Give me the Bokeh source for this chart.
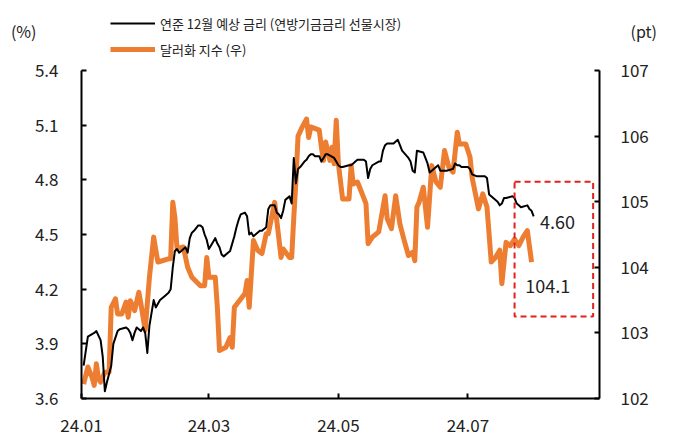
import pandas as pd
from bokeh.plotting import figure
from bokeh.models import (Range1d, LinearAxis, FixedTicker, DatetimeTickFormatter,
                          Legend, LegendItem)
from bokeh.embed import file_html
from bokeh.resources import INLINE
from bokeh.core.properties import value

# ---------------- data ----------------
series_names = ["연준 12월 예상 금리 (연방기금금리 선물시장)", "달러화 지수 (우)"]

rate_dates = [
    "2024-01-02", "2024-01-04", "2024-01-07", "2024-01-08", "2024-01-10", "2024-01-11",
    "2024-01-12", "2024-01-13", "2024-01-15", "2024-01-16", "2024-01-18", "2024-01-19",
    "2024-01-22", "2024-01-23", "2024-01-24", "2024-01-25", "2024-01-26", "2024-01-27",
    "2024-01-29", "2024-01-30", "2024-01-31", "2024-02-01", "2024-02-02", "2024-02-03",
    "2024-02-04", "2024-02-05", "2024-02-07", "2024-02-08", "2024-02-09", "2024-02-11",
    "2024-02-12", "2024-02-13", "2024-02-14", "2024-02-15", "2024-02-16", "2024-02-17",
    "2024-02-19", "2024-02-20", "2024-02-21", "2024-02-22", "2024-02-23", "2024-02-25",
    "2024-02-26", "2024-02-27", "2024-02-28", "2024-02-29", "2024-03-01", "2024-03-02",
    "2024-03-04", "2024-03-05", "2024-03-06", "2024-03-07", "2024-03-08", "2024-03-11",
    "2024-03-13", "2024-03-14", "2024-03-15", "2024-03-16", "2024-03-18", "2024-03-19",
    "2024-03-20", "2024-03-21", "2024-03-22", "2024-03-25", "2024-03-26", "2024-03-27",
    "2024-03-28", "2024-03-29", "2024-03-30", "2024-04-01", "2024-04-02", "2024-04-03",
    "2024-04-04", "2024-04-05", "2024-04-06", "2024-04-08", "2024-04-09", "2024-04-10",
    "2024-04-11", "2024-04-12", "2024-04-13", "2024-04-15", "2024-04-16", "2024-04-17",
    "2024-04-18", "2024-04-19", "2024-04-20", "2024-04-22", "2024-04-23", "2024-04-24",
    "2024-04-25", "2024-04-26", "2024-04-29", "2024-04-30", "2024-05-01", "2024-05-02",
    "2024-05-03", "2024-05-06", "2024-05-07", "2024-05-08", "2024-05-09", "2024-05-10",
    "2024-05-13", "2024-05-14", "2024-05-15", "2024-05-16", "2024-05-17", "2024-05-20",
    "2024-05-21", "2024-05-22", "2024-05-23", "2024-05-24", "2024-05-27", "2024-05-28",
    "2024-05-29", "2024-05-30", "2024-05-31", "2024-06-03", "2024-06-04", "2024-06-05",
    "2024-06-06", "2024-06-07", "2024-06-10", "2024-06-11", "2024-06-12", "2024-06-13",
    "2024-06-14", "2024-06-17", "2024-06-18", "2024-06-20", "2024-06-21", "2024-06-24",
    "2024-06-25", "2024-06-26", "2024-06-27", "2024-06-28", "2024-07-01", "2024-07-02",
    "2024-07-03", "2024-07-05", "2024-07-08", "2024-07-09", "2024-07-10", "2024-07-11",
    "2024-07-12", "2024-07-15", "2024-07-16", "2024-07-17", "2024-07-18", "2024-07-19",
    "2024-07-22", "2024-07-23", "2024-07-24", "2024-07-25", "2024-07-26", "2024-07-29",
    "2024-07-30", "2024-07-31", "2024-08-01",
]
rate_values = [
    3.78, 3.94, 3.96, 3.97, 3.92, 3.83,
    3.64, 3.69, 3.78, 3.90, 3.97, 3.98,
    3.99, 3.98, 3.96, 3.92, 3.96, 3.99,
    3.97, 3.99, 3.96, 3.85, 4.00, 4.07,
    4.14, 4.10, 4.14, 4.15, 4.16, 4.18,
    4.20, 4.32, 4.41, 4.42, 4.40, 4.41,
    4.43, 4.40, 4.48, 4.51, 4.52, 4.55,
    4.55, 4.54, 4.50, 4.47, 4.42, 4.44,
    4.48, 4.45, 4.43, 4.39, 4.38, 4.41,
    4.49, 4.54, 4.58, 4.61, 4.62, 4.60,
    4.50, 4.51, 4.49, 4.52, 4.52, 4.53,
    4.54, 4.64, 4.66, 4.66, 4.62, 4.61,
    4.59, 4.63, 4.69, 4.71, 4.67, 4.92,
    4.78, 4.86, 4.87, 4.90, 4.91, 4.93,
    4.94, 4.94, 4.93, 4.93, 4.90, 4.92,
    4.94, 4.94, 4.92, 4.90, 4.88, 4.87,
    4.87, 4.88, 4.88, 4.89, 4.90, 4.91,
    4.91, 4.90, 4.81, 4.86, 4.88, 4.90,
    4.90, 4.96, 4.99, 5.00, 5.00, 5.01,
    5.02, 4.99, 4.96, 4.92, 4.90, 4.85,
    4.84, 4.96, 4.95, 4.92, 4.89, 4.84,
    4.85, 4.88, 4.85, 4.85, 4.85, 4.86,
    4.89, 4.88, 4.88, 4.87, 4.87, 4.86,
    4.83, 4.82, 4.82, 4.82, 4.81, 4.72,
    4.71, 4.68, 4.66, 4.67, 4.70, 4.70,
    4.71, 4.70, 4.67, 4.66, 4.65, 4.66,
    4.64, 4.63, 4.60,
]

dxy_dates = [
    "2024-01-02", "2024-01-04", "2024-01-06", "2024-01-07", "2024-01-08", "2024-01-09",
    "2024-01-10", "2024-01-12", "2024-01-14", "2024-01-15", "2024-01-17", "2024-01-18",
    "2024-01-20", "2024-01-22", "2024-01-23", "2024-01-24", "2024-01-26", "2024-01-28",
    "2024-01-29", "2024-01-31", "2024-02-02", "2024-02-04", "2024-02-05", "2024-02-06",
    "2024-02-08", "2024-02-11", "2024-02-12", "2024-02-13", "2024-02-14", "2024-02-15",
    "2024-02-18", "2024-02-20", "2024-02-22", "2024-02-26", "2024-02-28", "2024-02-29",
    "2024-03-01", "2024-03-04", "2024-03-05", "2024-03-06", "2024-03-09", "2024-03-11",
    "2024-03-12", "2024-03-13", "2024-03-18", "2024-03-19", "2024-03-20", "2024-03-22",
    "2024-03-24", "2024-03-26", "2024-03-28", "2024-03-29", "2024-04-01", "2024-04-02",
    "2024-04-04", "2024-04-05", "2024-04-08", "2024-04-09", "2024-04-10", "2024-04-11",
    "2024-04-12", "2024-04-14", "2024-04-16", "2024-04-17", "2024-04-18", "2024-04-22",
    "2024-04-23", "2024-04-24", "2024-04-25", "2024-04-27", "2024-04-28", "2024-04-29",
    "2024-04-30", "2024-05-01", "2024-05-03", "2024-05-06", "2024-05-07", "2024-05-08",
    "2024-05-10", "2024-05-11", "2024-05-14", "2024-05-15", "2024-05-17", "2024-05-20",
    "2024-05-23", "2024-05-24", "2024-05-26", "2024-05-28", "2024-05-30", "2024-06-01",
    "2024-06-03", "2024-06-05", "2024-06-06", "2024-06-07", "2024-06-08", "2024-06-10",
    "2024-06-12", "2024-06-14", "2024-06-16", "2024-06-18", "2024-06-20", "2024-06-22",
    "2024-06-24", "2024-06-26", "2024-06-27", "2024-06-30", "2024-07-02", "2024-07-03",
    "2024-07-06", "2024-07-08", "2024-07-10", "2024-07-12", "2024-07-14", "2024-07-16",
    "2024-07-17", "2024-07-19", "2024-07-21", "2024-07-23", "2024-07-25", "2024-07-27",
    "2024-07-29", "2024-07-31",
]
dxy_values = [
    102.22, 102.48, 102.32, 102.20, 102.53, 102.30,
    102.25, 102.40, 102.40, 103.39, 103.52, 103.29,
    103.29, 103.47, 103.24, 103.49, 103.34, 103.62,
    103.44, 103.04, 103.85, 104.46, 104.26, 104.08,
    104.10, 104.13, 104.13, 104.99, 104.76, 104.28,
    104.31, 104.00, 103.85, 103.72, 103.72, 104.15,
    103.85, 103.85, 103.39, 102.73, 102.78, 102.93,
    102.78, 103.39, 103.60, 103.80, 103.39, 104.41,
    104.26, 104.21, 104.51, 104.51, 104.99, 104.71,
    104.15, 104.28, 104.15, 104.15, 104.76, 105.32,
    106.00, 106.14, 106.26, 105.98, 106.14, 106.09,
    105.83, 105.63, 105.91, 105.63, 105.83, 105.58,
    106.24, 105.58, 105.04, 105.04, 105.55, 105.27,
    105.30, 105.22, 104.97, 104.36, 104.46, 104.54,
    105.09, 104.74, 104.59, 105.09, 104.66, 104.41,
    104.18, 104.23, 104.10, 104.92, 104.99, 105.22,
    104.61, 105.55, 105.30, 105.22, 105.78, 105.53,
    105.45, 106.06, 105.88, 105.88, 105.68, 105.37,
    104.89, 105.12, 104.92, 104.08, 104.15, 104.26,
    103.75, 104.38, 104.33, 104.43, 104.33, 104.46,
    104.56, 104.08,
]

left_ticks = [3.6, 3.9, 4.2, 4.5, 4.8, 5.1, 5.4]
right_ticks = [102, 103, 104, 105, 106, 107]
x_tick_dates = ["2024-01-01", "2024-03-01", "2024-05-01", "2024-07-01"]
x_tick_labels = ["24.01", "24.03", "24.05", "24.07"]
x_start, x_end = "2024-01-01", "2024-09-01"

last_rate_label = "4.60"
last_dxy_label = "104.1"
left_unit = "(%)"
right_unit = "(pt)"

# ---------------- layout / styling ----------------
FONT = "Noto Sans CJK KR"
TXT = "#222222"
ORANGE = "#ED7D31"
RED = "#E3211C"
TICK_FS = "17px"

W, H = 694, 447
FRAME_L, FRAME_R, FRAME_B = 81, 599, 398      # frame edges (px); frame reaches the top
AXIS_TOP = 70                                   # where the value axes end (px)
frame_h = FRAME_B                               # frame spans 0..FRAME_B


def extend_top(lo, hi):
    # value at the top of the frame so that `hi` sits AXIS_TOP px below it
    per_px = (hi - lo) / (FRAME_B - AXIS_TOP)
    return hi + AXIS_TOP * per_px


def ms(d):
    return int(pd.Timestamp(d).value // 10**6)


p = figure(width=W, height=H, output_backend="svg", toolbar_location=None, title=None,
           x_axis_type="datetime",
           x_range=Range1d(pd.Timestamp(x_start), pd.Timestamp(x_end)),
           y_range=Range1d(left_ticks[0], extend_top(left_ticks[0], left_ticks[-1])),
           min_border_left=FRAME_L, min_border_right=W - FRAME_R,
           min_border_top=0, min_border_bottom=H - FRAME_B)
p.outline_line_color = None
p.grid.visible = False
p.background_fill_color = "white"
p.border_fill_color = "white"

p.extra_y_ranges = {
    "dxy": Range1d(right_ticks[0], extend_top(right_ticks[0], right_ticks[-1])),
    "px": Range1d(0, frame_h),   # pixel-like helper range for the unit captions
}

# lines
r_dxy = p.line(pd.to_datetime(dxy_dates), dxy_values, line_color=ORANGE, line_width=5,
               line_join="round", y_range_name="dxy")
r_rate = p.line(pd.to_datetime(rate_dates), rate_values, line_color="black", line_width=2,
                line_join="round")


def style_axis(ax):
    ax.axis_line_color = "black"
    ax.axis_line_width = 2
    ax.major_tick_line_color = "black"
    ax.major_tick_line_width = 2
    ax.major_tick_in = 5
    ax.major_tick_out = 0
    ax.minor_tick_line_color = None
    ax.major_label_text_font = FONT
    ax.major_label_text_font_size = TICK_FS
    ax.major_label_text_color = TXT


# x axis
xa = p.xaxis[0]
xa.ticker = FixedTicker(ticks=[ms(d) for d in x_tick_dates])
xa.formatter = DatetimeTickFormatter(days="%y.%m", months="%y.%m", years="%y.%m")
xa.major_label_overrides = {ms(d): lab for d, lab in zip(x_tick_dates, x_tick_labels)}
style_axis(xa)
xa.major_label_standoff = 20

# left axis
ya = p.yaxis[0]
ya.ticker = FixedTicker(ticks=left_ticks)
ya.bounds = (left_ticks[0], left_ticks[-1])
style_axis(ya)
ya.major_label_standoff = 23

# right axis
ra = LinearAxis(y_range_name="dxy", ticker=FixedTicker(ticks=right_ticks),
                bounds=(right_ticks[0], right_ticks[-1]))
style_axis(ra)
ra.major_label_standoff = 21
p.add_layout(ra, "right")

# unit captions as tick labels of bare helper axes
UNIT_Y = frame_h - 30   # 30 px below the top of the picture


def unit_axis(text, standoff):
    ax = LinearAxis(y_range_name="px", ticker=FixedTicker(ticks=[UNIT_Y]),
                    major_label_overrides={UNIT_Y: text})
    ax.axis_line_color = None
    ax.major_tick_line_color = None
    ax.minor_tick_line_color = None
    ax.major_label_text_font = FONT
    ax.major_label_text_font_size = "16px"
    ax.major_label_text_color = TXT
    ax.major_label_standoff = standoff
    return ax


p.add_layout(unit_axis(left_unit, -11), "left")
p.add_layout(unit_axis(right_unit, -27), "right")

# red dashed box around the latest values
p.quad(left=[pd.Timestamp("2024-07-23")], right=[pd.Timestamp("2024-08-29")],
       bottom=[4.05], top=[4.79], fill_alpha=0, line_color=RED, line_width=2,
       line_dash="6 4")

# end-value labels
p.text(x=[pd.Timestamp("2024-08-04")], y=[rate_values[-1] - 0.03], text=[last_rate_label],
       text_font=value(FONT), text_font_size="18px", text_color=TXT,
       text_baseline="middle", text_align="left")
p.text(x=[pd.Timestamp("2024-07-28")], y=[103.72], text=[last_dxy_label],
       text_font=value(FONT), text_font_size="18px", text_color=TXT,
       text_baseline="middle", text_align="left", y_range_name="dxy")

# legend (inside the upper, axis-free part of the frame)
legend = Legend(items=[LegendItem(label=series_names[0], renderers=[r_rate]),
                       LegendItem(label=series_names[1], renderers=[r_dxy])],
                location=(29, FRAME_B - 59), orientation="vertical",
                glyph_width=45, glyph_height=20, label_height=20, spacing=6,
                padding=0, margin=0, label_standoff=5,
                border_line_color=None, background_fill_alpha=0,
                label_text_font=FONT, label_text_font_size="13px",
                label_text_color=TXT)
p.add_layout(legend)

open("out.html", "w").write(file_html(p, INLINE))
